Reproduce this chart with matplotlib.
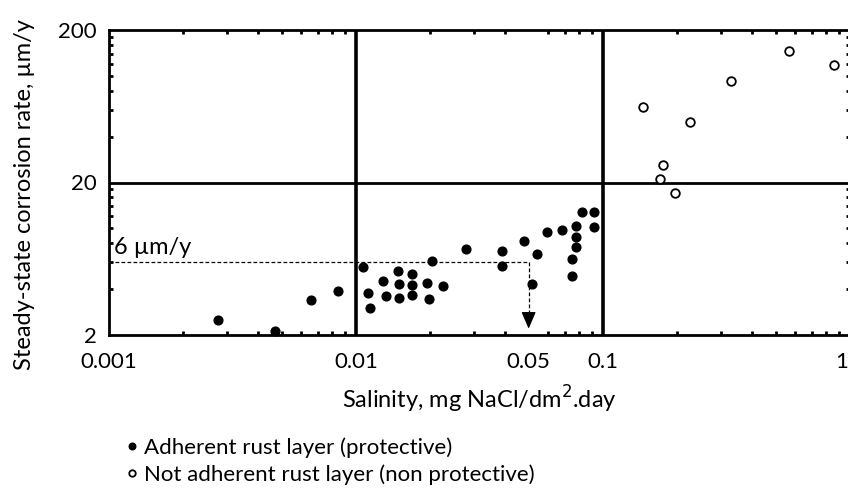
import numpy as np
import matplotlib
matplotlib.use("Agg")
import matplotlib.pyplot as plt
from matplotlib.ticker import FixedLocator, NullFormatter

plt.rcParams["font.family"] = ["Lato", "DejaVu Sans"]

# DATA
salinity_adherent = [0.00275, 0.00471, 0.00658, 0.00846, 0.0107, 0.0112, 0.0114,
                     0.0129, 0.0132, 0.0148, 0.0150, 0.0150, 0.0168, 0.0168, 0.0168,
                     0.0193, 0.0197, 0.0204, 0.0226, 0.0278, 0.0391, 0.0391, 0.0480,
                     0.0542, 0.0517, 0.0595, 0.0683, 0.0778, 0.0778, 0.0778, 0.0750,
                     0.0750, 0.0823, 0.0920, 0.0920]
rate_adherent = [2.51, 2.13, 3.39, 3.89, 5.58, 3.77, 3.01,
                 4.52, 3.60, 5.26, 4.32, 3.50, 5.02, 4.26, 3.66,
                 4.39, 3.44, 6.11, 4.19, 7.33, 7.11, 5.67, 8.27,
                 6.79, 4.32, 9.47, 9.76, 10.37, 8.78, 7.55, 6.30,
                 4.88, 12.8, 12.8, 10.2]

salinity_not_adherent = [0.145, 0.170, 0.175, 0.195, 0.224, 0.331, 0.568, 0.862]
rate_not_adherent = [62.5, 21.1, 26.0, 17.1, 49.9, 92.6, 145.7, 117.9]

x_ticks = [0.001, 0.01, 0.05, 0.1, 1]
x_ticklabels = ["0.001", "0.01", "0.05", "0.1", "1"]
y_ticks = [2, 20, 200]
y_ticklabels = ["2", "20", "200"]
x_grid = [0.01, 0.1]
y_grid = [20]

threshold_rate = 6
threshold_salinity = 0.05
arrow_end = 2.2

# FIGURE
fig = plt.figure(figsize=(8.48, 4.88), dpi=100)
ax = fig.add_axes([109 / 848, 1 - 335 / 488, 741 / 848, 305 / 488])

ax.set_xscale("log")
ax.set_yscale("log")
ax.set_xlim(0.001, 1)
ax.set_ylim(2, 200)

for xv in x_grid:
    ax.axvline(xv, color="black", lw=2.6, zorder=1)
for yv in y_grid:
    ax.axhline(yv, color="black", lw=2.0, zorder=1)

adh, = ax.plot(salinity_adherent, rate_adherent, "o", color="black", ms=6.3,
               ls="none", clip_on=False, zorder=3,
               label="Adherent rust layer (protective)")
nad, = ax.plot(salinity_not_adherent, rate_not_adherent, "o", mfc="white",
               mec="black", mew=1.3, ms=6.2, ls="none", zorder=3,
               label="Not adherent rust layer (non protective)")

# 6 um/y threshold with arrow down at 0.05
ax.plot([0.001, threshold_salinity], [threshold_rate, threshold_rate],
        color="black", lw=0.9, ls=(0, (3, 1.8)), zorder=2)
ax.plot([threshold_salinity, threshold_salinity], [threshold_rate, arrow_end * 1.12],
        color="black", lw=0.9, ls=(0, (3, 1.8)), zorder=2)
ax.annotate("", xy=(threshold_salinity, arrow_end),
            xytext=(threshold_salinity, arrow_end * 1.13),
            arrowprops=dict(arrowstyle="-|>,head_length=0.65,head_width=0.28",
                            color="black", lw=0.9, shrinkA=0, shrinkB=0,
                            mutation_scale=16), zorder=4)
ax.text(0.00105, threshold_rate * 1.06, "6 \u00b5m/y", fontsize=17,
        ha="left", va="bottom")

# ticks
ax.xaxis.set_major_locator(FixedLocator(x_ticks))
ax.set_xticklabels(x_ticklabels[:-1] + [""])
ax.annotate(x_ticklabels[-1], xy=(x_ticks[-1], 0), xycoords=ax.get_xaxis_transform(),
            xytext=(-8, -17), textcoords="offset pixels", ha="center", va="top",
            fontsize=16)
ax.yaxis.set_major_locator(FixedLocator(y_ticks))
ax.set_yticklabels(y_ticklabels)
x_minor = [k * 10.0 ** d for d in (-3, -2, -1) for k in range(2, 10)]
y_minor = [2 * k * 10.0 ** d for d in (0, 1) for k in range(2, 10)]
ax.xaxis.set_minor_locator(FixedLocator(x_minor))
ax.yaxis.set_minor_locator(FixedLocator(y_minor))
ax.xaxis.set_minor_formatter(NullFormatter())
ax.yaxis.set_minor_formatter(NullFormatter())
ax.tick_params(which="major", length=0, labelsize=16)
ax.tick_params(axis="x", which="major", pad=12)
ax.tick_params(axis="y", which="major", pad=9)
ax.tick_params(which="minor", direction="in", length=2.6, width=2.0,
               top=True, right=True, color="black")

for sp in ax.spines.values():
    sp.set_linewidth(2.0)
    sp.set_color("black")

ax.set_xlabel("Salinity, mg NaCl/dm$^2$.day", fontsize=17, labelpad=9)
ax.set_ylabel("Steady-state corrosion rate, \u00b5m/y", fontsize=17)
ax.yaxis.set_label_coords(-0.1, 0.46)

fig.legend(handles=[adh, nad], loc="upper left", bbox_to_anchor=(126 / 848, 1 - 437 / 488),
           frameon=False, fontsize=16, markerscale=0.75, handlelength=0.5,
           handletextpad=0.3, labelspacing=0.3, borderpad=0, borderaxespad=0)

fig.savefig("out.png", dpi=100)
